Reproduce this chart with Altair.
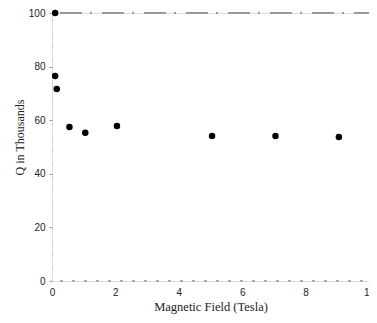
import altair as alt
import pandas as pd

field_tesla = [0.1, 0.1, 0.15, 0.55, 1.05, 2.05, 5.05, 7.05, 9.05]
q_thousands = [100, 76.5, 71.6, 57.5, 55.3, 57.8, 54.1, 54.1, 53.7]
x_ticks = [0, 2, 4, 6, 8, 10]
y_ticks = [0, 20, 40, 60, 80, 100]

df = pd.DataFrame({"field": field_tesla, "q": q_thousands})

xs = alt.Scale(domain=[0, 10], nice=False, zero=False)
ys = alt.Scale(domain=[0, 100], nice=False)

points = alt.Chart(df).mark_circle(size=42, color="black", opacity=1).encode(
    x=alt.X("field:Q", scale=xs, title="Magnetic Field (Tesla)",
            axis=alt.Axis(values=x_ticks, ticks=False, domain=False, grid=False,
                          labelFlush=False,
                          labelFont="Liberation Sans", labelFontSize=10,
                          labelColor="#222", labelPadding=6,
                          titleFont="Liberation Serif", titleFontSize=12.5,
                          titleFontWeight="normal", titleColor="#222",
                          titlePadding=3)),
    y=alt.Y("q:Q", scale=ys, title="Q in Thousands",
            axis=alt.Axis(values=y_ticks, ticks=True, tickSize=3, tickColor="#999",
                          domain=True, domainColor="#aaa", domainDash=[1, 12],
                          grid=False, labelFlush=False,
                          labelFont="Liberation Sans", labelFontSize=10,
                          labelColor="#222", labelPadding=4,
                          titleFont="Liberation Serif", titleFontSize=12,
                          titleFontWeight="normal", titleColor="#222",
                          titleX=-26, titleY=124)),
)

top = alt.Chart(df).mark_rule(color="#999", strokeWidth=1, strokeDash=[22, 8, 2, 10]).encode(
    y=alt.datum(100, scale=ys), x=alt.value(8), x2=alt.value(317)
)
bottom = alt.Chart(df).mark_rule(color="#aaa", strokeWidth=1, strokeDash=[3, 9]).encode(
    y=alt.datum(0, scale=ys), x=alt.value(8), x2=alt.value(317)
)

chart = alt.layer(top, bottom, points).properties(
    width=317, height=268,
    autosize=alt.AutoSizeParams(type="none"),
    padding={"left": 44, "top": 5, "right": 0, "bottom": 34},
).configure_view(stroke=None).configure(background="white")

chart.save("out.html", embed_options={"renderer": "svg", "actions": False})
